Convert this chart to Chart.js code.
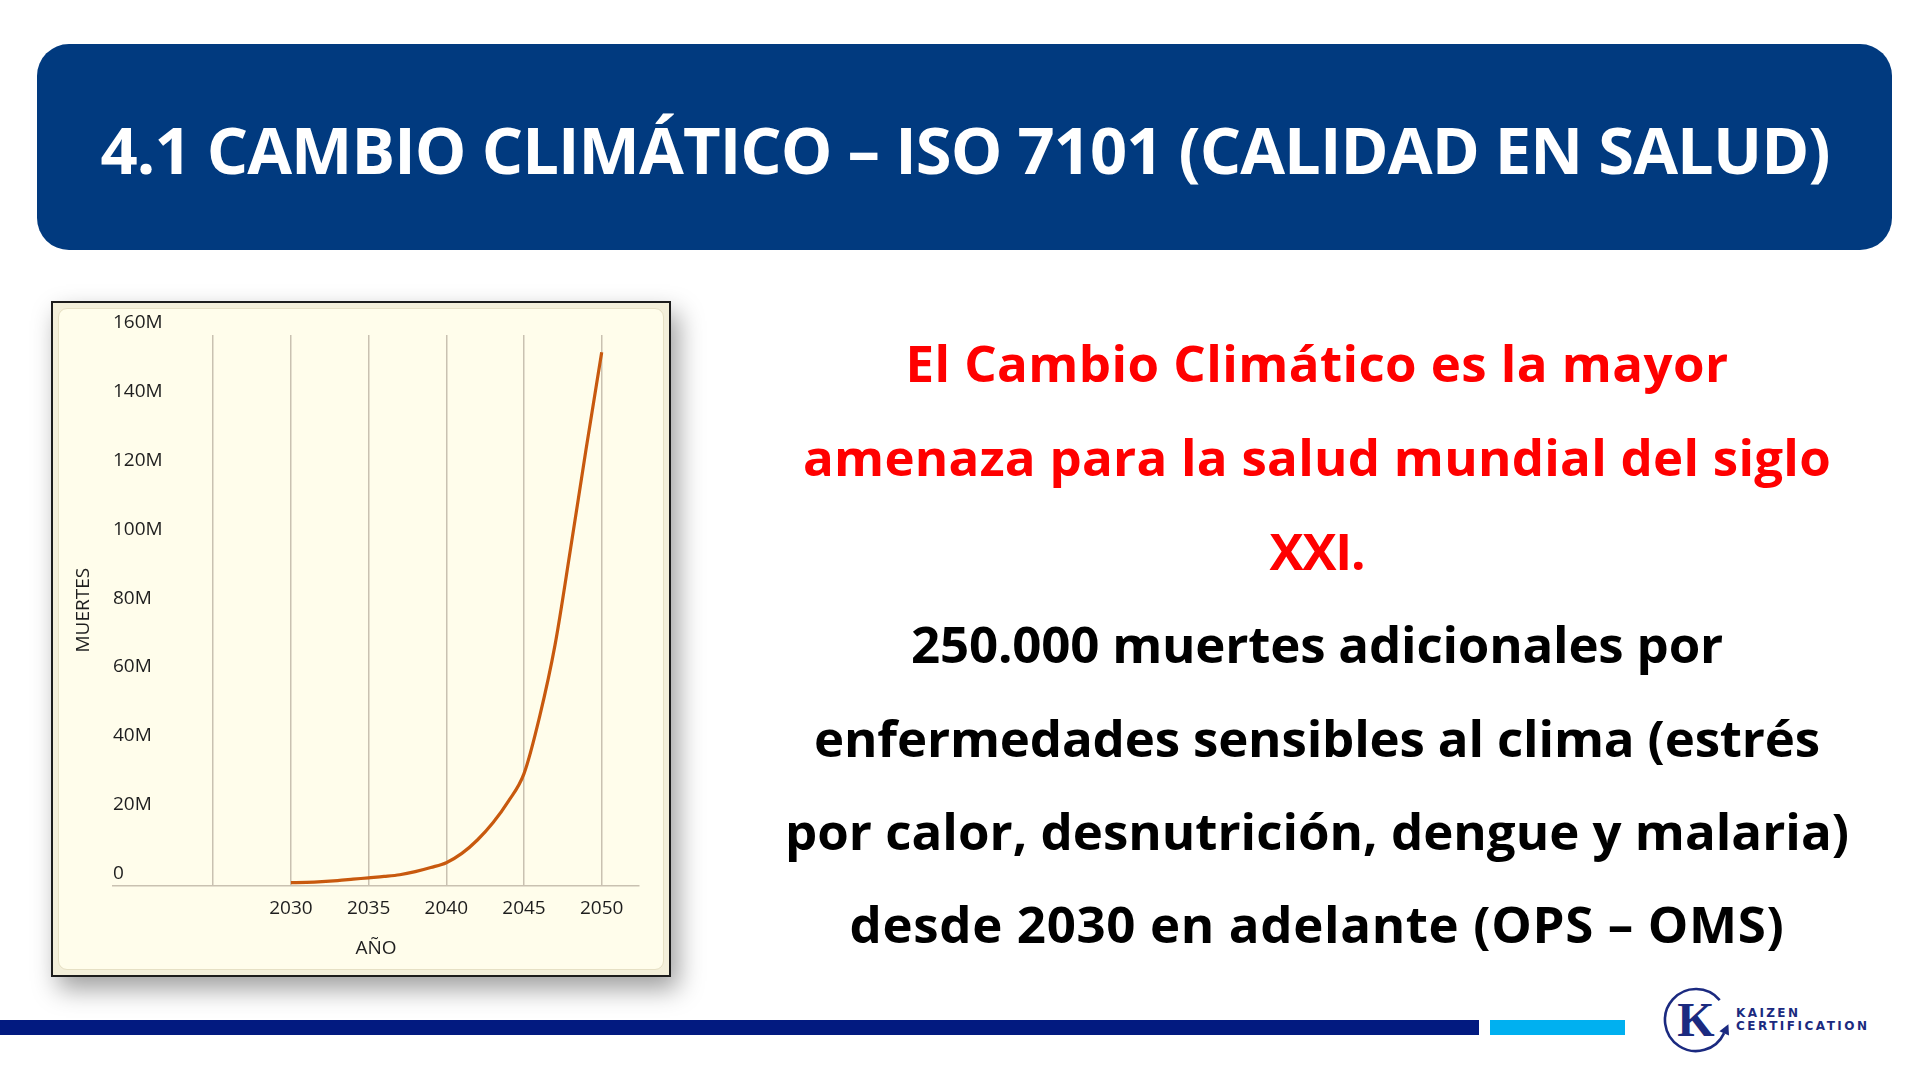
<!DOCTYPE html>
<html lang="es">
<head>
<meta charset="utf-8">
<title>4.1 Cambio climático – ISO 7101</title>
<script src="https://cdn.jsdelivr.net/npm/chart.js@4.4.1/dist/chart.umd.min.js"></script>
<style>
  html, body { margin: 0; padding: 0; background: #fff; }
  #slide { position: relative; width: 1920px; height: 1080px; overflow: hidden; font-family: "Open Sans", "DejaVu Sans", sans-serif; }
  #header { position: absolute; left: 37px; top: 44px; width: 1855px; height: 206px; background: #013a7f; border-radius: 32px; }
  .ln { position: absolute; left: 517px; width: 1600px; text-align: center; white-space: nowrap; font-weight: bold; }
  .ln span { display: inline-block; }
  #title { left: 0; width: 1930px; color: #fff; font-size: 65px; height: 96px; line-height: 96px; top: 101px; }
  .red { color: #ff0000; font-size: 51px; height: 72px; line-height: 72px; }
  .blk { color: #000; font-size: 51px; height: 72px; line-height: 72px; }
  #chartBox { position: absolute; left: 51px; top: 301px; width: 620px; height: 676px; box-sizing: border-box;
              border: 2px solid #1c1c1c; background: #f3efda; padding: 5px;
              box-shadow: 7px 12px 24px rgba(0,0,0,0.38); }
  #chartBox div { width: 100%; height: 100%; box-sizing: border-box; background: #fffdeb; border: 1px solid #e6e0c4; border-radius: 9px; }
  #muertesChart { position: absolute; left: 60px; top: 315px; }
  #barDark { position: absolute; left: 0; top: 1020px; width: 1479px; height: 15px; background: #021a80; }
  #barLight { position: absolute; left: 1490px; top: 1020px; width: 135px; height: 15px; background: #00b0f0; }
  #logo { position: absolute; left: 1660px; top: 985px; }
</style>
</head>
<body>
<div id="slide">
  <div id="header"></div>
  <div class="ln" id="title" data-w="1729"><span>4.1 CAMBIO CLIMÁTICO – ISO 7101 (CALIDAD EN SALUD)</span></div>

  <div id="chartBox"><div></div></div>
  <canvas id="muertesChart" width="603" height="654"></canvas>

  <div class="ln red" style="top:326px" data-w="823"><span>El Cambio Climático es la mayor</span></div>
  <div class="ln red" style="top:420px" data-w="1028"><span>amenaza para la salud mundial del siglo</span></div>
  <div class="ln red" style="top:514px" data-w="95"><span>XXI.</span></div>
  <div class="ln blk" style="top:607px" data-w="812"><span>250.000 muertes adicionales por</span></div>
  <div class="ln blk" style="top:701px" data-w="1006"><span>enfermedades sensibles al clima (estrés</span></div>
  <div class="ln blk" style="top:794px" data-w="1064"><span>por calor, desnutrición, dengue y malaria)</span></div>
  <div class="ln blk" style="top:887px" data-w="935"><span>desde 2030 en adelante (OPS – OMS)</span></div>

  <div id="barDark"></div>
  <div id="barLight"></div>

  <svg id="logo" width="220" height="75" viewBox="0 0 220 75">
    <path d="M59.7 15.1 A31 31 0 1 0 64.1 48.1" fill="none" stroke="#1b2a80" stroke-width="2.6"/>
    <polygon points="68.4,39.2 69.0,50.4 59.4,46.2" fill="#1b2a80"/>
    <text x="36" y="51" text-anchor="middle" font-family="Liberation Serif" font-weight="bold" font-size="48" fill="#1b2a80">K</text>
    <text x="76" y="32" font-family="DejaVu Sans" font-weight="bold" font-size="12" fill="#1b2a80" textLength="62" lengthAdjust="spacing">KAIZEN</text>
    <text x="76" y="45" font-family="DejaVu Sans" font-weight="bold" font-size="12" fill="#1b2a80" textLength="131" lengthAdjust="spacing">CERTIFICATION</text>
  </svg>
</div>

<script>
// Values (deaths in millions)
const years = [2030, 2031, 2032, 2033, 2034, 2035, 2036, 2037, 2038, 2039, 2040,
               2041, 2042, 2043, 2044, 2045, 2046, 2047, 2048, 2049, 2050];
const deaths = [0.8, 0.9, 1.1, 1.4, 1.8, 2.2, 2.6, 3.1, 4.0, 5.2, 6.6,
                9.3, 13.2, 18.2, 24.5, 32.5, 49, 70, 98, 127, 155];
const gridYears = [2025, 2030, 2035, 2040, 2045, 2050];
const yTicks = [0, 20, 40, 60, 80, 100, 120, 140, 160];

const gridColor = '#c9c1b1';
const textColor = '#1e1e1e';

// stretch each text line to the width it has on the slide
document.querySelectorAll('[data-w]').forEach(el => {
    const span = el.firstElementChild;
    const target = +el.dataset.w;
    const w = span.getBoundingClientRect().width;
    const n = span.textContent.length;
    span.style.letterSpacing = ((target - w) / n) + 'px';
});

new Chart(document.getElementById('muertesChart'), {
    type: 'line',
    data: {
        datasets: [{
            data: years.map((y, i) => ({ x: y, y: deaths[i] })),
            borderColor: '#c8590e',
            borderWidth: 3.2,
            pointRadius: 0,
            cubicInterpolationMode: 'monotone',
            fill: false
        }]
    },
    options: {
        responsive: false,
        animation: false,
        layout: { padding: { left: 12.6, right: 24, top: 20, bottom: 5 } },
        plugins: {
            legend: { display: false },
            tooltip: { enabled: false }
        },
        scales: {
            x: {
                type: 'linear',
                min: 2018.55,
                max: 2052.4,
                afterBuildTicks: scale => { scale.ticks = gridYears.map(v => ({ value: v })); },
                grid: { color: gridColor, lineWidth: 1.5, drawTicks: false },
                border: { color: gridColor, width: 1.5 },
                ticks: {
                    padding: 12,
                    color: textColor,
                    autoSkip: false,
                    maxRotation: 0,
                    font: { family: 'Open Sans', size: 19 },
                    callback: v => v === 2025 ? '' : String(v)
                },
                title: {
                    display: true,
                    text: 'AÑO',
                    color: textColor,
                    font: { family: 'Open Sans', size: 19 },
                    padding: { top: 5, bottom: 4 }
                }
            },
            y: {
                min: 0,
                max: 160,
                afterBuildTicks: scale => { scale.ticks = yTicks.map(v => ({ value: v })); },
                grid: { display: false, drawTicks: false },
                border: { display: false },
                ticks: {
                    mirror: true,
                    padding: 0,
                    labelOffset: -12,
                    color: textColor,
                    font: { family: 'Open Sans', size: 19 },
                    callback: v => v === 0 ? '0' : v + 'M'
                },
                title: {
                    display: true,
                    text: 'MUERTES',
                    color: textColor,
                    font: { family: 'Open Sans', size: 19 },
                    padding: { top: 0, bottom: 17.6 }
                }
            }
        }
    }
});
</script>
</body>
</html>
